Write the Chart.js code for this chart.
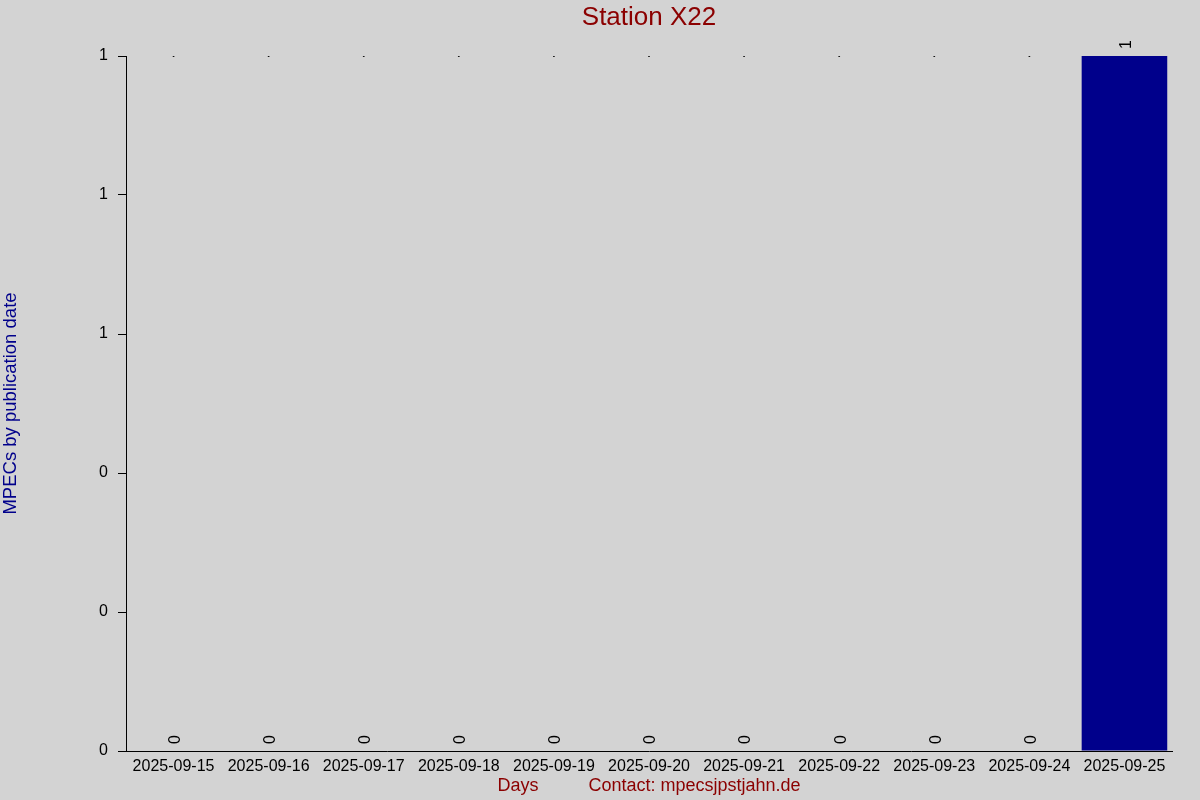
<!DOCTYPE html>
<html>
<head>
<meta charset="utf-8">
<title>Station X22</title>
<script src="https://cdn.jsdelivr.net/npm/chart.js@4"></script>
<style>
  html, body { margin: 0; padding: 0; background: #d3d3d3; }
  canvas { display: block; background: #d3d3d3; }
</style>
</head>
<body>
<canvas id="chart" width="1200" height="800"></canvas>
<script>
const days = ['2025-09-15', '2025-09-16', '2025-09-17', '2025-09-18', '2025-09-19', '2025-09-20',
  '2025-09-21', '2025-09-22', '2025-09-23', '2025-09-24', '2025-09-25']
const mpecCounts = [0, 0, 0, 0, 0, 0, 0, 0, 0, 0, 1]
const topMarks = [1, 1, 1, 1, 1, 1, 1, 1, 1, 1, 1]
const yTicks = [0, 0.2, 0.4, 0.6, 0.8, 1]
const chartTitle = 'Station X22'

const FONT = 'Liberation Sans, Arial, sans-serif'

// title centred over the plot area, plus vertical count labels above each bar
const decorations = {
  id: 'decorations',
  afterDraw (chart) {
    const { ctx, chartArea } = chart
    ctx.save()
    ctx.font = '26px ' + FONT
    ctx.fillStyle = '#8b0000'
    ctx.textAlign = 'center'
    ctx.textBaseline = 'middle'
    ctx.fillText(chartTitle, (chartArea.left + chartArea.right) / 2, 18)
    ctx.restore()
  },
  afterDatasetsDraw (chart) {
    const meta = chart.getDatasetMeta(0)
    const ctx = chart.ctx
    ctx.save()
    ctx.font = '16px ' + FONT
    ctx.fillStyle = '#000'
    ctx.textAlign = 'left'
    ctx.textBaseline = 'middle'
    meta.data.forEach((bar, i) => {
      ctx.save()
      ctx.translate(bar.x + 2, bar.y - 7)
      ctx.rotate(-Math.PI / 2)
      ctx.fillText(String(mpecCounts[i]), 0, 0)
      ctx.restore()
    })
    ctx.restore()
  }
}

new Chart(document.getElementById('chart'), {
  type: 'bar',
  data: {
    labels: days,
    datasets: [{
      label: 'MPECs',
      data: mpecCounts,
      backgroundColor: '#00008b',
      borderWidth: 0,
      barPercentage: 0.9,
      categoryPercentage: 1,
      order: 2
    }, {
      type: 'line',
      label: 'top',
      data: topMarks,
      showLine: false,
      pointRadius: 1,
      pointBackgroundColor: '#000',
      pointBorderWidth: 0,
      order: 3
    }]
  },
  plugins: [decorations],
  options: {
    responsive: false,
    animation: false,
    layout: { padding: { left: 0, right: 28, top: 56, bottom: 0 } },
    scales: {
      x: {
        grid: { display: false },
        border: { display: true, color: '#000', width: 1 },
        ticks: { color: '#000', font: { family: FONT, size: 16 }, maxRotation: 0, padding: -2 },
        title: {
          display: true,
          text: 'Days          Contact: mpecsjpstjahn.de',
          color: '#8b0000',
          font: { family: FONT, size: 18 },
          padding: { top: 0, bottom: 3 }
        },
        afterFit (scale) { scale.height = 49 }
      },
      y: {
        min: 0,
        max: 1,
        afterBuildTicks (scale) { scale.ticks = yTicks.map(v => ({ value: v })) },
        grid: { display: true, drawOnChartArea: false, drawTicks: true, tickLength: 8, color: '#000' },
        border: { display: true, color: '#000', width: 1 },
        ticks: {
          color: '#000',
          font: { family: FONT, size: 16 },
          padding: 10,
          callback: v => Math.round(v)
        },
        title: {
          display: true,
          text: 'MPECs by publication date',
          color: '#00008b',
          font: { family: FONT, size: 18.5 },
          padding: 0
        },
        afterFit (scale) { scale.width = 126 }
      }
    },
    plugins: {
      legend: { display: false },
      tooltip: { enabled: false },
      title: { display: false }
    }
  }
})
</script>
</body>
</html>
